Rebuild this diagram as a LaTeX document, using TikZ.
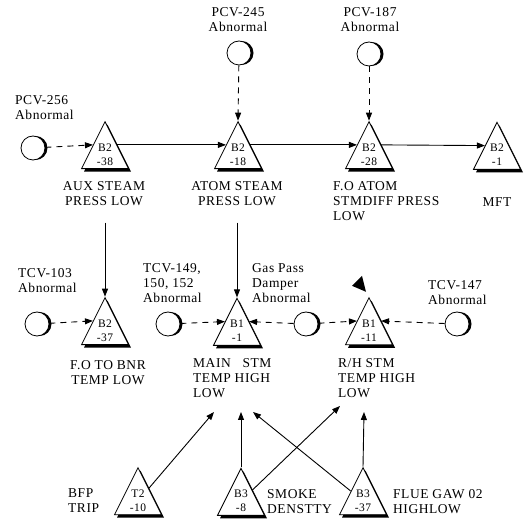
\documentclass[tikz,border=0pt]{standalone}
\usepackage{fontspec}
\setmainfont[LetterSpace=4]{Liberation Serif}
\usetikzlibrary{arrows.meta,shapes.geometric,shadows}
\tikzset{
  flow/.style={-{Triangle[length=8pt,width=6pt]},line width=0.9pt},
  signal/.style={flow,dash pattern=on 6pt off 5pt},
  alarm/.style={draw=black,line width=0.8pt,fill=white,
               shape=isosceles triangle,shape border rotate=90,
               isosceles triangle apex angle=50,
               isosceles triangle stretches,minimum width=47pt,minimum height=47pt,
               inner sep=0pt,align=center,font=\fontsize{11.5}{14}\selectfont,
               drop shadow={shadow xshift=2.5pt,shadow yshift=-3pt,fill=black,opacity=1}},
  valve/.style={draw=black,line width=0.8pt,fill=white,circle,minimum size=24pt,inner sep=0pt,
               drop shadow={shadow xshift=2.5pt,shadow yshift=0pt,fill=black,opacity=1}},
  lab/.style={inner sep=0pt,align=left,font=\fontsize{13.5}{15}\selectfont},
}
\begin{document}
\begin{tikzpicture}[x=1pt,y=1pt]
  \path[use as bounding box] (0,0) rectangle (532,524);

  % top row of alarms
  \node[alarm] (b238) at (105,369) {B2\\-38};
  \node[alarm] (b218) at (238,369) {B2\\-18};
  \node[alarm] (b228) at (369,369) {B2\\-28};
  \node[alarm] (b21)  at (497,369) {B2\\-1};
  \node[lab,align=center,anchor=north] (auxlab)  at (104,343) {AUX STEAM\\PRESS LOW};
  \node[lab,align=center,anchor=north] (atomlab) at (237,343) {ATOM STEAM\\PRESS LOW};
  \node[lab,anchor=north west] (folab) at (333,343) {F.O ATOM\\STMDIFF PRESS\\LOW};
  \node[lab,anchor=north] (mftlab) at (497,327) {MFT};

  \node[valve] (pcv256) at (33,376) {};
  \node[valve] (pcv245) at (239,471) {};
  \node[valve] (pcv187) at (369,470) {};
  \node[lab,anchor=north west] at (15,429) {PCV-256\\Abnormal};
  \node[lab,align=center,anchor=north] at (238,517) {PCV-245\\Abnormal};
  \node[lab,align=center,anchor=north] at (370,517) {PCV-187\\Abnormal};

  \draw[signal] (pcv256) -- (b238.left side);
  \draw[signal] (pcv245) -- (b218.apex);
  \draw[signal] (pcv187) -- (b228.apex);
  \draw[flow] (b238.right side) -- (b218.left side);
  \draw[flow] (b218.right side) -- (b228.left side);
  \draw[flow] (b228.right side) -- (b21.left side);

  % middle row
  \node[alarm] (b237) at (105,193) {B2\\-37};
  \node[alarm] (b11)  at (237,193) {B1\\-1};
  \node[alarm] (b111) at (369,193) {B1\\-11};
  \node[lab,align=center,anchor=north] at (108,164) {F.O TO BNR\\TEMP LOW};
  \node[lab,anchor=north west] (mainlab) at (193,166) {MAIN\ \ \ STM\\TEMP HIGH\\LOW};
  \node[lab,anchor=north west] (rhlab) at (338,166) {R/H STM\\TEMP HIGH\\LOW};

  \node[valve] (tcv103) at (37,200) {};
  \node[valve] (tcv149) at (168,200) {};
  \node[valve] (gaspass) at (306,200) {};
  \node[valve] (tcv147) at (457,200) {};
  \node[lab,anchor=north west] at (18,256) {TCV-103\\Abnormal};
  \node[lab,anchor=north west] at (143,261) {TCV-149,\\150, 152\\Abnormal};
  \node[lab,anchor=north west] at (252,261) {Gas Pass\\Damper\\Abnormal};
  \node[lab,anchor=north west] at (428,244) {TCV-147\\Abnormal};

  \draw[flow,shorten <=17pt] (auxlab.south -| b237.apex) -- (b237.apex);
  \draw[flow,shorten <=17pt] (atomlab.south -| b11.apex) -- (b11.apex);
  \draw[signal] (tcv103) -- (b237.left side);
  \draw[signal] (tcv149) -- (b11.left side);
  \draw[signal] (gaspass) -- (b11.right side);
  \draw[signal] (gaspass) -- (b111.left side);
  \draw[signal] (tcv147) -- (b111.right side);
  \fill[shift={(b111.apex)}] (-17,11) -- (-7,21) -- (-3,5) -- cycle;

  % bottom row
  \node[alarm] (t210) at (138,23) {T2\\-10};
  \node[alarm] (b38)  at (241,23) {B3\\-8};
  \node[alarm] (b337) at (363,23) {B3\\-37};
  \node[lab,anchor=north west] at (68,36) {BFP\\TRIP};
  \node[lab,anchor=north west] at (267,35) {SMOKE\\DENSTTY};
  \node[lab,anchor=north west] at (393,35) {FLUE GAW 02\\HIGHLOW};

  \coordinate (mainA) at (214,112);
  \coordinate (mainB) at (241,112);
  \coordinate (mainC) at (253,112);
  \coordinate (rhA) at (340,118);
  \coordinate (rhB) at (364,112);
  \draw[flow] (t210) -- (mainA);
  \draw[flow] (b38.apex) -- (mainB);
  \draw[flow] (b38) -- (rhA);
  \draw[flow] (b337) -- (mainC);
  \draw[flow] (b337.apex) -- (rhB);
\end{tikzpicture}
\end{document}
